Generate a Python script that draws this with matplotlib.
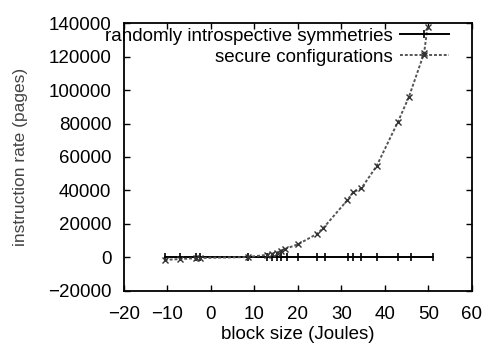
import matplotlib
matplotlib.use('Agg')
import matplotlib.pyplot as plt

# block size (Joules) / instruction rate (pages)
sym_x = [-10.5, -7.1, -3.4, -2.6, 8.5, 12.9, 14.0, 15.2, 16.1, 17.5, 20.1,
         24.4, 26.2, 31.5, 32.6, 34.5, 38.2, 43.0, 46.0, 51.0]
sym_y = [0] * len(sym_x)

cfg_x = [-10.6, -7.1, -3.4, -2.6, 8.5, 12.9, 14.0, 15.2, 16.1, 17.0, 20.1,
         24.3, 25.8, 31.3, 32.7, 34.6, 38.1, 43.0, 45.5, 49.0, 49.8]
cfg_y = [-1500, -1000, -500, -400, 200, 1500, 2200, 2900, 4100, 5000, 7900,
         13900, 17400, 34000, 38900, 41300, 54600, 81000, 95800, 122000, 137600]

plt.rcParams['font.family'] = ['Liberation Sans', 'DejaVu Sans']
plt.rcParams['font.size'] = 13.5

fig = plt.figure(figsize=(4.86, 3.45), dpi=100)
ax = fig.add_axes([0.255, 0.157, 0.716, 0.776])

ax.plot(sym_x, sym_y, color='black', lw=1.4, marker='|', ms=6, mew=1.2,
        label='randomly introspective symmetries')
ax.plot(cfg_x, cfg_y, color='#555555', lw=1.4, ls=(0, (1.5, 1)), marker='x',
        ms=4, mew=1.0, mec='#333333', label='secure configurations')

ax.set_xlim(-20, 60)
ax.set_ylim(-20000, 140000)
ax.set_xticks(range(-20, 61, 10))
ax.set_yticks(range(-20000, 140001, 20000))
ax.tick_params(direction='in', top=True, right=True, length=4, width=1, pad=9)
ax.tick_params(axis='x', pad=11)
for s in ax.spines.values():
    s.set_linewidth(1.3)

ax.set_xlabel('block size (Joules)', labelpad=2)
ax.set_ylabel('instruction rate (pages)', labelpad=14, color='#444444',
              fontsize=12.5)

leg = ax.legend(loc='upper right', bbox_to_anchor=(0.955, 1.012), frameon=False,
                markerfirst=False, handlelength=2.6, handletextpad=0.4,
                borderaxespad=0.0, labelspacing=0.22, fontsize=13.5)
for t in leg.get_texts():
    t.set_ha('right')
leg._legend_box.align = 'right'

fig.savefig('out.png', dpi=100)
